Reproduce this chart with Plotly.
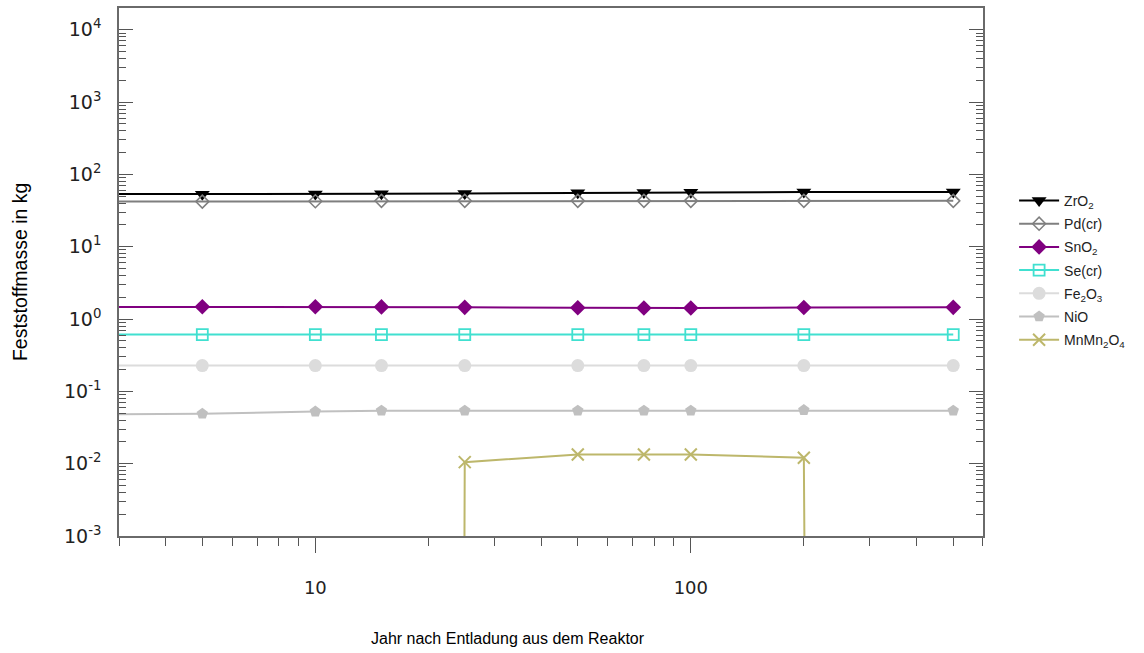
import plotly.graph_objects as go

# ---- data ----
years = [1, 5, 10, 15, 25, 50, 75, 100, 200, 500]
zro2 = [53, 53, 53.5, 54, 54.5, 55.5, 56, 56.5, 57, 57]
pd_cr = [42, 42, 42.5, 43, 43, 43, 43, 43, 43, 43]
sno2 = [1.48, 1.48, 1.48, 1.47, 1.45, 1.43, 1.42, 1.42, 1.44, 1.45]
se_cr = [0.61, 0.61, 0.61, 0.61, 0.61, 0.61, 0.61, 0.61, 0.61, 0.61]
fe2o3 = [0.227, 0.227, 0.227, 0.227, 0.227, 0.227, 0.227, 0.227, 0.227, 0.227]
nio = [0.047, 0.049, 0.0525, 0.054, 0.054, 0.054, 0.054, 0.054, 0.055, 0.054]
mnmn2o4 = [0, 0, 0, 0, 0.0105, 0.0134, 0.0134, 0.0134, 0.0121, 0]

names = ["ZrO<sub>2</sub>", "Pd(cr)", "SnO<sub>2</sub>", "Se(cr)",
         "Fe<sub>2</sub>O<sub>3</sub>", "NiO", "MnMn<sub>2</sub>O<sub>4</sub>"]

y_tick_vals = [1e-3, 1e-2, 1e-1, 1e0, 1e1, 1e2, 1e3, 1e4]
y_tick_text = ["10<sup>-3</sup>", "10<sup>-2</sup>", "10<sup>-1</sup>", "10<sup>0</sup>",
               "10<sup>1</sup>", "10<sup>2</sup>", "10<sup>3</sup>", "10<sup>4</sup>"]
x_tick_vals = [10, 100]
x_tick_text = ["10", "100"]

FLOOR = 1e-300  # zero masses drawn as falling off the log axis
mn_plot = [v if v > 0 else FLOOR for v in mnmn2o4]

styles = [
    (zro2, "#000000", dict(symbol="triangle-down", size=13, color="#000000")),
    (pd_cr, "#7f7f7f", dict(symbol="diamond-open", size=10, color="#7f7f7f", line=dict(width=1.5, color="#7f7f7f"))),
    (sno2, "#800080", dict(symbol="diamond", size=12, color="#800080")),
    (se_cr, "#40e0d0", dict(symbol="square-open", size=11, color="#40e0d0", line=dict(width=1.8, color="#40e0d0"))),
    (fe2o3, "#dcdcdc", dict(symbol="circle", size=13, color="#dcdcdc")),
    (nio, "#c0c0c0", dict(symbol="pentagon", size=12, color="#c0c0c0")),
    (mn_plot, "#bdb76b", dict(symbol="x-thin-open", size=12, color="#bdb76b", line=dict(width=2, color="#bdb76b"))),
]

fig = go.Figure()
for i, ((vals, col, mk), nm) in enumerate(zip(styles, names)):
    fig.add_trace(go.Scatter(x=years, y=vals, name=nm, mode="lines+markers",
                             legendgroup=f"g{i}",
                             line=dict(color=col, width=2), marker=mk))

def minor_vals(lo, hi):
    out = []
    d = lo
    while d < hi:
        for m in range(2, 10):
            out.append(m * d)
        d *= 10
    return out

axis_col = "#6a6a6a"
fig.update_xaxes(type="log", range=[0.4771, 2.7782], showgrid=False, zeroline=False,
                 showline=True, linecolor=axis_col, linewidth=1.5, mirror=True,
                 tickmode="array", tickvals=x_tick_vals, ticktext=x_tick_text,
                 ticks="outside", ticklen=15, tickcolor="#555555", tickwidth=1,
                 ticklabelstandoff=20,
                 tickfont=dict(family="DejaVu Sans", size=18, color="#222222"),
                 minor=dict(tickmode="array", tickvals=[v for v in minor_vals(1, 1000) if 3 <= v <= 600],
                            ticks="outside", ticklen=8, tickcolor="#555555", showgrid=False))
fig.update_yaxes(type="log", range=[-3, 4.3], showgrid=False, zeroline=False,
                 showline=True, linecolor=axis_col, linewidth=1.5, mirror="ticks",
                 tickmode="array", tickvals=y_tick_vals, ticktext=y_tick_text,
                 ticks="inside", ticklen=14, tickcolor="#555555", tickwidth=1,
                 ticklabelstandoff=12,
                 tickfont=dict(family="DejaVu Sans", size=19, color="#222222"),
                 minor=dict(tickmode="array", tickvals=minor_vals(1e-3, 1e4),
                            ticks="inside", ticklen=7, tickcolor="#555555", showgrid=False))

fig.update_layout(
    width=1144, height=653,
    margin=dict(l=119, r=161, t=6, b=117),
    plot_bgcolor="white", paper_bgcolor="white",
    font=dict(family="Liberation Sans, Arial", color="#000000"),
    showlegend=True,
    legend=dict(x=1.036, y=0.665, xanchor="left", yanchor="top",
                font=dict(family="Liberation Sans, Arial", size=14, color="#222222"),
                bgcolor="rgba(0,0,0,0)", itemwidth=40, tracegroupgap=2),
    annotations=[
        dict(text="Jahr nach Entladung aus dem Reaktor", xref="paper", yref="paper",
             x=(508 - 119) / 864, y=-0.195, xanchor="center", yanchor="middle",
             showarrow=False, font=dict(size=16, family="Liberation Sans, Arial")),
        dict(text="Feststoffmasse in kg", xref="paper", yref="paper",
             x=-0.1145, y=0.5, xanchor="center", yanchor="middle", textangle=-90,
             showarrow=False, font=dict(size=19.5, family="Liberation Sans, Arial")),
    ],
)

fig.write_html("out.html")
